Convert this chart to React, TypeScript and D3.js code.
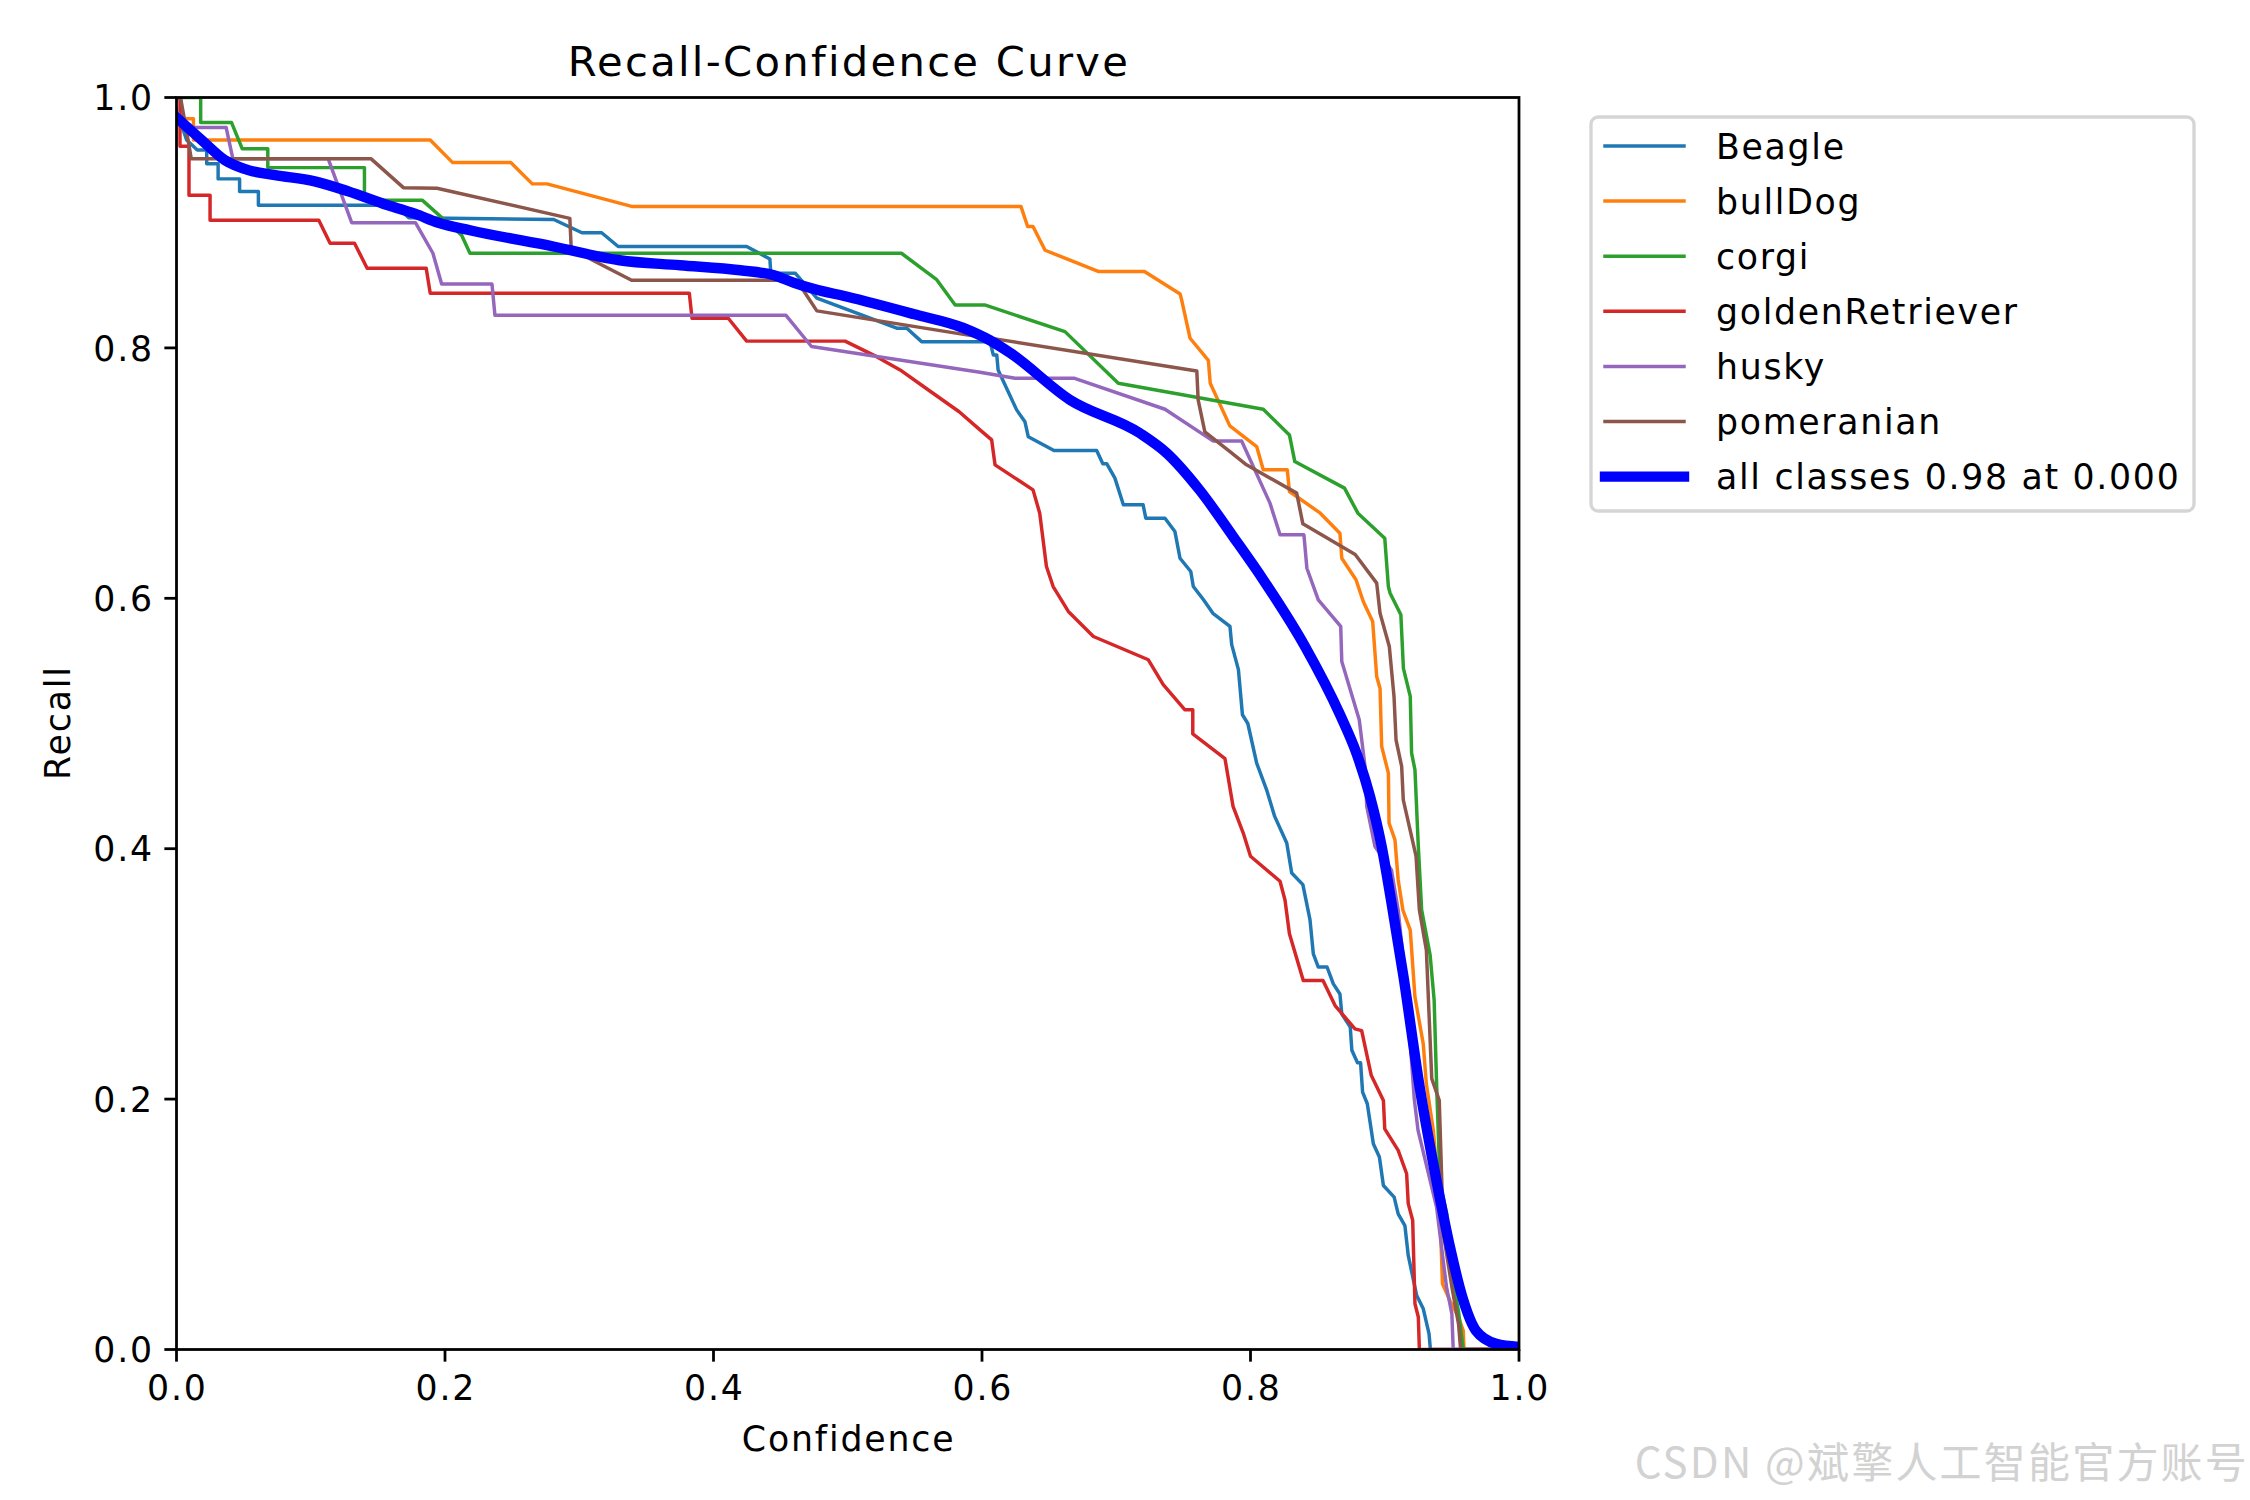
import React from 'react';
import * as d3 from 'd3';

type P = [number, number];

const W = 2250;
const H = 1500;

const titleText = 'Recall-Confidence Curve';
const xLabel = 'Confidence';
const yLabel = 'Recall';
const xTicks = [0, 0.2, 0.4, 0.6, 0.8, 1.0];
const yTicks = [0, 0.2, 0.4, 0.6, 0.8, 1.0];
const watermark = 'CSDN @斌擎人工智能官方账号';

const classNames = ['Beagle', 'bullDog', 'corgi', 'goldenRetriever', 'husky', 'pomeranian'];
const classColors = ['#1f77b4', '#ff7f0e', '#2ca02c', '#d62728', '#9467bd', '#8c564b'];
const allLabel = 'all classes 0.98 at 0.000';
const allColor = '#0000ff';

const beagle: P[] = [
  [0, 0.99], [0.0076, 0.966], [0.0155, 0.958], [0.0225, 0.958], [0.0225, 0.947], [0.031, 0.947], [0.031, 0.935],
  [0.047, 0.935], [0.047, 0.925], [0.061, 0.925], [0.061, 0.914], [0.163, 0.914], [0.173, 0.904], [0.281, 0.9026],
  [0.302, 0.892], [0.3167, 0.892], [0.329, 0.881], [0.4247, 0.881], [0.442, 0.871], [0.4427, 0.8596], [0.461, 0.8596],
  [0.477, 0.8397], [0.5365, 0.8157], [0.544, 0.8157], [0.555, 0.805], [0.606, 0.805], [0.6084, 0.7944], [0.611, 0.7944],
  [0.612, 0.7824], [0.6258, 0.7505], [0.632, 0.741], [0.6345, 0.729], [0.6536, 0.718], [0.6854, 0.718], [0.69, 0.7074],
  [0.693, 0.7074], [0.699, 0.696], [0.7053, 0.6747], [0.72, 0.6747], [0.722, 0.664], [0.7363, 0.664], [0.7437, 0.6533],
  [0.7475, 0.632], [0.7555, 0.6214], [0.7574, 0.6094], [0.765, 0.5988], [0.772, 0.588], [0.7847, 0.5775], [0.786, 0.563],
  [0.791, 0.543], [0.794, 0.507], [0.798, 0.5], [0.8046, 0.4684], [0.812, 0.447], [0.818, 0.4258], [0.827, 0.4045],
  [0.8307, 0.3806], [0.839, 0.3713], [0.8443, 0.3433], [0.8468, 0.316], [0.8505, 0.3055], [0.857, 0.3055], [0.8617, 0.292],
  [0.8666, 0.284], [0.868, 0.268], [0.8743, 0.2576], [0.8755, 0.239], [0.8797, 0.229], [0.882, 0.229], [0.8835, 0.2056],
  [0.887, 0.1963], [0.8915, 0.1644], [0.896, 0.1537], [0.899, 0.131], [0.907, 0.1217], [0.91, 0.1084], [0.915, 0.099],
  [0.9175, 0.0751], [0.9238, 0.0431], [0.9287, 0.0325], [0.933, 0.0125], [0.934, 0], [1, 0],
];

const bullDog: P[] = [
  [0, 1], [0.003, 1], [0.004, 0.983], [0.0126, 0.983], [0.0126, 0.966], [0.189, 0.966], [0.2057, 0.948], [0.249, 0.948],
  [0.265, 0.931], [0.276, 0.931], [0.339, 0.913], [0.629, 0.913], [0.634, 0.897], [0.638, 0.897], [0.647, 0.878],
  [0.687, 0.861], [0.721, 0.861], [0.7476, 0.843], [0.7487, 0.8383], [0.755, 0.8077], [0.7686, 0.79], [0.77, 0.7718],
  [0.7846, 0.7377], [0.8046, 0.7212], [0.8095, 0.7026], [0.8274, 0.7026], [0.829, 0.6853], [0.852, 0.668], [0.8666, 0.652],
  [0.868, 0.632], [0.8786, 0.6148], [0.884, 0.5975], [0.891, 0.5815], [0.894, 0.5376], [0.8965, 0.528], [0.8977, 0.4817],
  [0.9027, 0.4604], [0.9032, 0.4205], [0.9076, 0.407], [0.91, 0.3752], [0.9135, 0.351], [0.919, 0.335], [0.9225, 0.2815],
  [0.9287, 0.244], [0.931, 0.212], [0.9362, 0.175], [0.941, 0.1137], [0.943, 0.0525], [0.9486, 0.039], [0.9548, 0.026],
  [0.9585, 0.015], [0.959, 0], [1, 0],
];

const corgi: P[] = [
  [0, 1], [0.018, 1], [0.018, 0.98], [0.041, 0.98], [0.049, 0.959], [0.068, 0.959], [0.068, 0.944], [0.14, 0.944],
  [0.14, 0.918], [0.183, 0.918], [0.2124, 0.89], [0.2186, 0.8756], [0.54, 0.8756], [0.566, 0.8548], [0.58, 0.8343],
  [0.602, 0.8343], [0.6618, 0.813], [0.7015, 0.7718], [0.8095, 0.751], [0.829, 0.7305], [0.833, 0.7092], [0.87, 0.688],
  [0.88, 0.668], [0.9, 0.648], [0.9027, 0.6094], [0.904, 0.604], [0.912, 0.5868], [0.9139, 0.544], [0.919, 0.5216],
  [0.92, 0.4764], [0.9225, 0.463], [0.925, 0.4018], [0.9275, 0.351], [0.9338, 0.315], [0.9368, 0.279], [0.9387, 0.2096],
  [0.9412, 0.1324], [0.9462, 0.1084], [0.9486, 0.066], [0.955, 0.03], [0.9585, 0], [1, 0],
];

const goldenRetriever: P[] = [
  [0, 1], [0.0026, 1], [0.0026, 0.961], [0.0093, 0.961], [0.0093, 0.922], [0.025, 0.922], [0.025, 0.902], [0.106, 0.902],
  [0.1144, 0.8836], [0.1326, 0.8836], [0.142, 0.8636], [0.186, 0.8636], [0.189, 0.8436], [0.382, 0.8436], [0.384, 0.8237],
  [0.411, 0.8237], [0.4247, 0.8054], [0.498, 0.8054], [0.5215, 0.793], [0.539, 0.7824], [0.558, 0.768], [0.583, 0.749],
  [0.5985, 0.7345], [0.6072, 0.7265], [0.6097, 0.7066], [0.638, 0.6866], [0.643, 0.668], [0.648, 0.6254], [0.653, 0.6094],
  [0.6643, 0.5895], [0.683, 0.5695], [0.7239, 0.5509], [0.735, 0.531], [0.751, 0.511], [0.757, 0.511], [0.757, 0.4918],
  [0.781, 0.4719], [0.787, 0.4338], [0.7946, 0.4125], [0.8, 0.394], [0.822, 0.374], [0.8257, 0.359], [0.829, 0.332],
  [0.8393, 0.2947], [0.854, 0.2947], [0.863, 0.2747], [0.8778, 0.2561], [0.8828, 0.2547], [0.89, 0.2188], [0.899, 0.1988],
  [0.9, 0.1762], [0.91, 0.159], [0.9163, 0.1404], [0.9175, 0.1165], [0.9208, 0.1032], [0.9225, 0.0365], [0.925, 0.026],
  [0.9258, 0], [1, 0],
];

const husky: P[] = [
  [0, 0.99], [0.006, 0.976], [0.037, 0.976], [0.042, 0.951], [0.113, 0.951], [0.1305, 0.9], [0.178, 0.9], [0.191, 0.8756],
  [0.1975, 0.851], [0.235, 0.851], [0.2372, 0.826], [0.454, 0.826], [0.473, 0.8011], [0.5985, 0.7806], [0.6246, 0.7757],
  [0.669, 0.7757], [0.7363, 0.751], [0.772, 0.7257], [0.7934, 0.7257], [0.8145, 0.676], [0.822, 0.6507], [0.8398, 0.6507],
  [0.842, 0.624], [0.8505, 0.5988], [0.8672, 0.5775], [0.868, 0.5495], [0.881, 0.503], [0.8853, 0.4657], [0.8866, 0.4338],
  [0.8927, 0.4018], [0.905, 0.383], [0.91, 0.351], [0.913, 0.32], [0.918, 0.26], [0.922, 0.2], [0.9248, 0.175],
  [0.9386, 0.1137], [0.946, 0.05], [0.95, 0.0285], [0.951, 0], [1, 0],
];

const pomeranian: P[] = [
  [0, 1], [0.003, 1], [0.008, 0.97], [0.011, 0.951], [0.145, 0.951], [0.169, 0.928], [0.194, 0.9275], [0.293, 0.9035],
  [0.294, 0.8796], [0.31, 0.87], [0.339, 0.854], [0.462, 0.854], [0.477, 0.8296], [0.5886, 0.8104], [0.611, 0.807],
  [0.76, 0.7816], [0.761, 0.7585], [0.766, 0.733], [0.7847, 0.7172], [0.797, 0.7066], [0.8344, 0.684], [0.839, 0.6595],
  [0.878, 0.635], [0.894, 0.6121], [0.8965, 0.588], [0.9034, 0.5615], [0.9069, 0.5216], [0.9084, 0.487], [0.9126, 0.4657],
  [0.9138, 0.439], [0.9233, 0.394], [0.9258, 0.351], [0.931, 0.319], [0.935, 0.2163], [0.9406, 0.199], [0.9437, 0.0925],
  [0.95, 0.05], [0.955, 0.02], [0.9565, 0], [1, 0],
];

const allClasses: P[] = [
  [0, 0.984], [0.0188, 0.966], [0.036, 0.95], [0.0535, 0.942], [0.0734, 0.938], [0.103, 0.933], [0.128, 0.925],
  [0.153, 0.9155], [0.178, 0.907], [0.195, 0.9], [0.2186, 0.894], [0.2807, 0.881], [0.33, 0.87], [0.375, 0.866],
  [0.42, 0.862], [0.445, 0.858], [0.46, 0.852], [0.475, 0.847], [0.499, 0.841], [0.549, 0.827], [0.586, 0.816],
  [0.606, 0.806], [0.621, 0.796], [0.6655, 0.7585], [0.7177, 0.7318], [0.7376, 0.716], [0.762, 0.6866], [0.787, 0.6494],
  [0.8095, 0.6148], [0.8406, 0.5615], [0.8667, 0.507], [0.879, 0.476], [0.889, 0.4418], [0.8977, 0.4018], [0.905, 0.357],
  [0.914, 0.2975], [0.926, 0.2096], [0.939, 0.1324], [0.9486, 0.0817], [0.9586, 0.039], [0.968, 0.015], [0.983, 0.0045],
  [1.0, 0.002],
];

const classSeries = [beagle, bullDog, corgi, goldenRetriever, husky, pomeranian];

const FONT = '"DejaVu Sans", sans-serif';
const FS = 34.72;
const LS = 1.85;
const LEG_LS = 1.7;

export default function App() {
  const L = 176.5, R = 1519, T = 97.5, B = 1349.5;
  const x = d3.scaleLinear().domain([0, 1]).range([L, R]);
  const y = d3.scaleLinear().domain([0, 1]).range([B, T]);
  const line = d3.line<P>().x(d => x(d[0])).y(d => y(d[1]));
  const smooth = d3.line<P>().x(d => x(d[0])).y(d => y(d[1])).curve(d3.curveMonotoneX);
  const fmt = d3.format('.1f');
  const tickLen = 12.15;
  const sw = 2.78;

  const legX = 1591, legY = 117, legW = 603, legH = 394;
  const rowY0 = 146, rowDy = 55.1;
  const hx0 = 1605, hx1 = 1684, tx = 1716;

  return (
    <svg width={W} height={H} viewBox={`0 0 ${W} ${H}`} style={{ position: 'absolute', left: 0, top: 0, background: '#fff' }}
      fontFamily={FONT}>
      <rect x={0} y={0} width={W} height={H} fill="#fff" />
      <defs>
        <clipPath id="axclip">
          <rect x={L} y={T} width={R - L} height={B - T} />
        </clipPath>
      </defs>
      <g clipPath="url(#axclip)" fill="none" strokeLinejoin="round" strokeLinecap="square">
        {classSeries.map((s, i) => (
          <path key={i} d={line(s) || ''} stroke={classColors[i]} strokeWidth={3.47} />
        ))}
        <path d={smooth(allClasses) || ''} stroke={allColor} strokeWidth={10.4} />
      </g>
      {/* spines */}
      <rect x={L} y={T} width={R - L} height={B - T} fill="none" stroke="#000" strokeWidth={sw} />
      {/* x ticks */}
      {xTicks.map(t => (
        <g key={'x' + t}>
          <line x1={x(t)} x2={x(t)} y1={B} y2={B + tickLen} stroke="#000" strokeWidth={sw} />
          <text x={x(t) + LS / 2} y={1400} textAnchor="middle" fontSize={FS} letterSpacing={LS} fill="#000">{fmt(t)}</text>
        </g>
      ))}
      {yTicks.map(t => (
        <g key={'y' + t}>
          <line x1={L - tickLen} x2={L} y1={y(t)} y2={y(t)} stroke="#000" strokeWidth={sw} />
          <text x={L - 24.3 + LS} y={y(t) + 12.6} textAnchor="end" fontSize={FS} letterSpacing={LS} fill="#000">{fmt(t)}</text>
        </g>
      ))}
      <text x={(L + R) / 2 + LS / 2} y={1451} textAnchor="middle" fontSize={FS} letterSpacing={LS} fill="#000">{xLabel}</text>
      <text transform={`translate(70,${(T + B) / 2 - LS / 2}) rotate(-90)`} textAnchor="middle" fontSize={FS} letterSpacing={LS} fill="#000">{yLabel}</text>
      <text x={(L + R) / 2 + 1.2} y={76} textAnchor="middle" fontSize={41.67} letterSpacing={2.3} fill="#000">{titleText}</text>

      {/* legend */}
      <rect x={legX} y={legY} width={legW} height={legH} rx={7} ry={7} fill="#fff" fillOpacity={0.8} stroke="#d5d5d5" strokeWidth={3.3} />
      {classNames.map((n, i) => (
        <g key={n}>
          <line x1={hx0} x2={hx1} y1={rowY0 + i * rowDy} y2={rowY0 + i * rowDy} stroke={classColors[i]} strokeWidth={3.47} strokeLinecap="square" />
          <text x={tx} y={rowY0 + i * rowDy + 12.5} fontSize={FS} letterSpacing={LEG_LS} fill="#000">{n}</text>
        </g>
      ))}
      <line x1={hx0} x2={hx1} y1={rowY0 + 6 * rowDy} y2={rowY0 + 6 * rowDy} stroke={allColor} strokeWidth={10.4} strokeLinecap="square" />
      <text x={tx} y={rowY0 + 6 * rowDy + 12.5} fontSize={FS} letterSpacing={LEG_LS} fill="#000">{allLabel}</text>

      <text x={2249} y={1478} textAnchor="end" fontSize={42} letterSpacing={2.2} fill="#d2d2d2"
        fontFamily={'"Noto Sans CJK SC", sans-serif'}>{watermark}</text>
    </svg>
  );
}
